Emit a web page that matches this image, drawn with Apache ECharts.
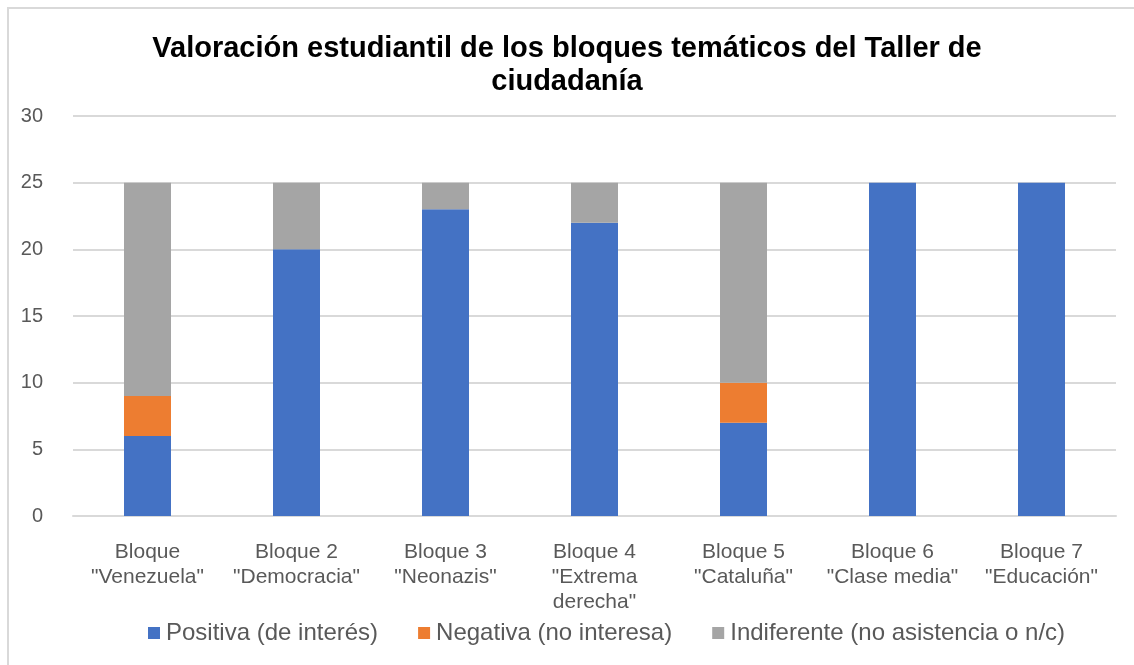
<!DOCTYPE html>
<html><head><meta charset="utf-8">
<script src="https://cdn.jsdelivr.net/npm/echarts@6/dist/echarts.min.js"></script>
<style>
html,body{margin:0;padding:0;background:#fff;}
#frame{position:absolute;left:7px;top:7px;width:1127px;height:658px;border-left:2px solid #d9d9d9;border-top:2px solid #d9d9d9;box-sizing:border-box;}
#c{position:absolute;left:0;top:0;width:1134px;height:665px;}
</style></head>
<body>
<div id="frame"></div>
<div id="c"></div>
<script>
const categories = ['Bloque\n"Venezuela"','Bloque 2\n"Democracia"','Bloque 3\n"Neonazis"','Bloque 4\n"Extrema\nderecha"','Bloque 5\n"Cataluña"','Bloque 6\n"Clase media"','Bloque 7\n"Educación"'];
const positiva = [6,20,23,22,7,25,25];
const negativa = [3,0,0,0,3,0,0];
const indiferente = [16,5,2,3,15,0,0];
const seriesNames = ['Positiva (de interés)','Negativa (no interesa)','Indiferente (no asistencia o n/c)'];
const colors = ['#4472C4','#ED7D31','#A5A5A5'];

const chart = echarts.init(document.getElementById('c'));
const font = 'Liberation Sans, Arial, sans-serif';
const mk = (name, data, color) => ({
  name, type:'bar', stack:'t', data, barWidth:47,
  itemStyle:{color}, emphasis:{disabled:true}
});
chart.setOption({
  animation:false,
  textStyle:{fontFamily:font},
  title:{
    text:'Valoración estudiantil de los bloques temáticos del Taller de\nciudadanía',
    left:'center', top:27,
    textStyle:{fontFamily:font,fontSize:29,fontWeight:'bold',color:'#000',lineHeight:33}
  },
  legend:{
    top:616, left:143, itemWidth:12, itemHeight:12, itemGap:40,
    icon:'rect',
    textStyle:{fontFamily:font,fontSize:24,color:'#595959',padding:[0,0,0,1]},
    data:seriesNames
  },
  grid:{left:73,right:18,top:116,bottom:149},
  xAxis:{
    type:'category', data:categories,
    axisLine:{lineStyle:{color:'#d9d9d9',width:2}},
    axisTick:{show:false},
    axisLabel:{fontFamily:font,fontSize:21,color:'#595959',lineHeight:25,margin:24,interval:0}
  },
  yAxis:{
    type:'value', min:0, max:30, interval:5,
    axisLine:{show:false}, axisTick:{show:false},
    splitLine:{lineStyle:{color:'#d9d9d9',width:2}},
    axisLabel:{fontFamily:font,fontSize:20,color:'#595959',margin:30}
  },
  series:[mk(seriesNames[0],positiva,colors[0]),mk(seriesNames[1],negativa,colors[1]),mk(seriesNames[2],indiferente,colors[2])]
});
</script>
</body></html>
